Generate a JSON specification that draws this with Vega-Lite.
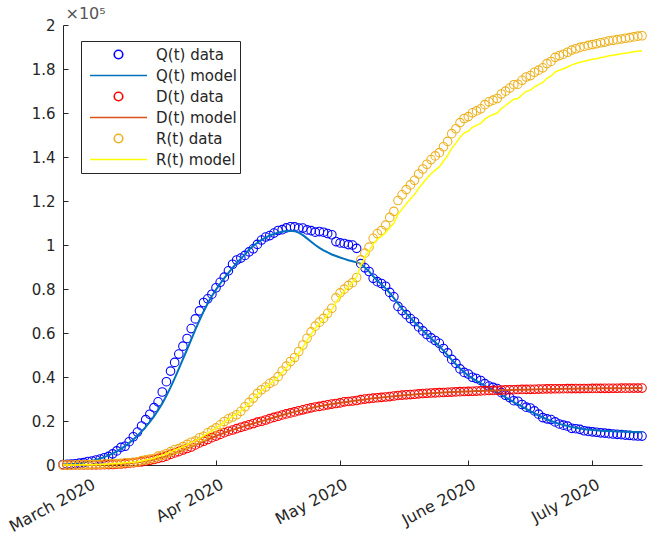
{
  "$schema": "https://vega.github.io/schema/vega-lite/v6.json",
  "width": 579,
  "height": 440,
  "autosize": {"type": "none"},
  "padding": {"left": 63, "top": 25, "right": 9, "bottom": 76},
  "background": "white",
  "data": {"values": [
    {"date":"2020-02-24","Q":221,"Qm":200,"D":7,"Dm":10,"R":1,"Rm":0},
    {"date":"2020-02-25","Q":311,"Qm":300,"D":10,"Dm":15,"R":1,"Rm":1},
    {"date":"2020-02-26","Q":385,"Qm":420,"D":12,"Dm":20,"R":3,"Rm":3},
    {"date":"2020-02-27","Q":588,"Qm":580,"D":17,"Dm":25,"R":45,"Rm":40},
    {"date":"2020-02-28","Q":821,"Qm":800,"D":21,"Dm":30,"R":46,"Rm":50},
    {"date":"2020-02-29","Q":1049,"Qm":1080,"D":29,"Dm":40,"R":50,"Rm":60},
    {"date":"2020-03-01","Q":1577,"Qm":1420,"D":34,"Dm":50,"R":83,"Rm":85},
    {"date":"2020-03-02","Q":1835,"Qm":1850,"D":52,"Dm":65,"R":149,"Rm":140},
    {"date":"2020-03-03","Q":2263,"Qm":2350,"D":79,"Dm":90,"R":160,"Rm":180},
    {"date":"2020-03-04","Q":2706,"Qm":2950,"D":107,"Dm":120,"R":276,"Rm":260},
    {"date":"2020-03-05","Q":3296,"Qm":3600,"D":148,"Dm":160,"R":414,"Rm":380},
    {"date":"2020-03-06","Q":3916,"Qm":4350,"D":197,"Dm":210,"R":523,"Rm":500},
    {"date":"2020-03-07","Q":5061,"Qm":5200,"D":233,"Dm":280,"R":589,"Rm":600},
    {"date":"2020-03-08","Q":6387,"Qm":6200,"D":366,"Dm":370,"R":622,"Rm":700},
    {"date":"2020-03-09","Q":7985,"Qm":7300,"D":463,"Dm":480,"R":724,"Rm":820},
    {"date":"2020-03-10","Q":8514,"Qm":8600,"D":631,"Dm":620,"R":1004,"Rm":980},
    {"date":"2020-03-11","Q":10590,"Qm":10000,"D":827,"Dm":800,"R":1045,"Rm":1120},
    {"date":"2020-03-12","Q":12839,"Qm":11600,"D":1016,"Dm":1010,"R":1258,"Rm":1290},
    {"date":"2020-03-13","Q":14955,"Qm":13300,"D":1266,"Dm":1250,"R":1439,"Rm":1500},
    {"date":"2020-03-14","Q":17750,"Qm":15200,"D":1441,"Dm":1500,"R":1966,"Rm":1850},
    {"date":"2020-03-15","Q":20603,"Qm":17300,"D":1809,"Dm":1800,"R":2335,"Rm":2250},
    {"date":"2020-03-16","Q":23073,"Qm":19600,"D":2158,"Dm":2150,"R":2749,"Rm":2650},
    {"date":"2020-03-17","Q":26062,"Qm":22100,"D":2503,"Dm":2530,"R":2941,"Rm":3100},
    {"date":"2020-03-18","Q":28710,"Qm":24900,"D":2978,"Dm":2960,"R":4025,"Rm":3800},
    {"date":"2020-03-19","Q":33190,"Qm":28000,"D":3405,"Dm":3440,"R":4440,"Rm":4450},
    {"date":"2020-03-20","Q":37860,"Qm":31500,"D":4032,"Dm":4000,"R":5129,"Rm":5100},
    {"date":"2020-03-21","Q":42681,"Qm":35300,"D":4825,"Dm":4650,"R":6072,"Rm":5900},
    {"date":"2020-03-22","Q":46638,"Qm":39400,"D":5476,"Dm":5350,"R":7024,"Rm":6800},
    {"date":"2020-03-23","Q":50418,"Qm":43700,"D":6077,"Dm":6080,"R":7432,"Rm":7500},
    {"date":"2020-03-24","Q":54030,"Qm":48100,"D":6820,"Dm":6800,"R":8326,"Rm":8300},
    {"date":"2020-03-25","Q":57521,"Qm":52500,"D":7503,"Dm":7520,"R":9362,"Rm":9200},
    {"date":"2020-03-26","Q":62013,"Qm":57000,"D":8165,"Dm":8250,"R":10361,"Rm":10150},
    {"date":"2020-03-27","Q":66414,"Qm":61500,"D":9134,"Dm":9020,"R":10950,"Rm":11100},
    {"date":"2020-03-28","Q":70065,"Qm":65800,"D":10023,"Dm":9880,"R":12384,"Rm":12100},
    {"date":"2020-03-29","Q":73880,"Qm":69800,"D":10779,"Dm":10750,"R":13030,"Rm":13200},
    {"date":"2020-03-30","Q":75528,"Qm":73500,"D":11591,"Dm":11600,"R":14620,"Rm":14400},
    {"date":"2020-03-31","Q":77635,"Qm":76800,"D":12428,"Dm":12400,"R":15729,"Rm":15600},
    {"date":"2020-04-01","Q":80572,"Qm":79700,"D":13155,"Dm":13200,"R":16847,"Rm":16800},
    {"date":"2020-04-02","Q":83049,"Qm":82400,"D":13915,"Dm":13950,"R":18278,"Rm":18100},
    {"date":"2020-04-03","Q":85388,"Qm":84900,"D":14681,"Dm":14650,"R":19758,"Rm":19500},
    {"date":"2020-04-04","Q":88274,"Qm":87300,"D":15362,"Dm":15320,"R":20996,"Rm":20800},
    {"date":"2020-04-05","Q":91246,"Qm":89600,"D":15887,"Dm":15950,"R":21815,"Rm":22000},
    {"date":"2020-04-06","Q":93187,"Qm":91800,"D":16523,"Dm":16550,"R":22837,"Rm":23200},
    {"date":"2020-04-07","Q":94067,"Qm":93800,"D":17127,"Dm":17120,"R":24392,"Rm":24500},
    {"date":"2020-04-08","Q":95262,"Qm":95600,"D":17669,"Dm":17700,"R":26491,"Rm":26200},
    {"date":"2020-04-09","Q":96877,"Qm":98000,"D":18279,"Dm":18270,"R":28470,"Rm":28000},
    {"date":"2020-04-10","Q":98273,"Qm":99600,"D":18849,"Dm":18850,"R":30455,"Rm":30000},
    {"date":"2020-04-11","Q":100269,"Qm":101000,"D":19468,"Dm":19400,"R":32534,"Rm":32000},
    {"date":"2020-04-12","Q":102253,"Qm":102300,"D":19899,"Dm":19950,"R":34211,"Rm":33800},
    {"date":"2020-04-13","Q":103616,"Qm":103400,"D":20465,"Dm":20480,"R":35435,"Rm":35300},
    {"date":"2020-04-14","Q":104291,"Qm":104300,"D":21067,"Dm":21040,"R":37130,"Rm":36800},
    {"date":"2020-04-15","Q":105418,"Qm":105000,"D":21645,"Dm":21600,"R":38092,"Rm":38300},
    {"date":"2020-04-16","Q":106607,"Qm":105600,"D":22170,"Dm":22180,"R":40164,"Rm":40000},
    {"date":"2020-04-17","Q":106962,"Qm":106000,"D":22745,"Dm":22700,"R":42727,"Rm":42000},
    {"date":"2020-04-18","Q":107771,"Qm":106400,"D":23227,"Dm":23220,"R":44927,"Rm":44200},
    {"date":"2020-04-19","Q":108257,"Qm":106500,"D":23660,"Dm":23690,"R":47055,"Rm":46400},
    {"date":"2020-04-20","Q":108237,"Qm":106300,"D":24114,"Dm":24150,"R":48877,"Rm":48300},
    {"date":"2020-04-21","Q":107709,"Qm":105600,"D":24648,"Dm":24600,"R":51600,"Rm":50800},
    {"date":"2020-04-22","Q":107699,"Qm":104500,"D":25085,"Dm":25060,"R":54543,"Rm":53600},
    {"date":"2020-04-23","Q":106848,"Qm":103000,"D":25549,"Dm":25500,"R":57576,"Rm":56600},
    {"date":"2020-04-24","Q":106527,"Qm":101500,"D":25969,"Dm":25930,"R":60498,"Rm":59500},
    {"date":"2020-04-25","Q":105847,"Qm":100000,"D":26384,"Dm":26330,"R":63120,"Rm":62200},
    {"date":"2020-04-26","Q":106103,"Qm":98700,"D":26644,"Dm":26700,"R":64928,"Rm":64200},
    {"date":"2020-04-27","Q":105813,"Qm":97600,"D":26977,"Dm":27050,"R":66624,"Rm":66100},
    {"date":"2020-04-28","Q":105205,"Qm":96600,"D":27359,"Dm":27380,"R":68941,"Rm":68300},
    {"date":"2020-04-29","Q":104657,"Qm":95700,"D":27682,"Dm":27680,"R":71252,"Rm":70600},
    {"date":"2020-04-30","Q":101551,"Qm":95000,"D":27967,"Dm":27980,"R":75945,"Rm":73800},
    {"date":"2020-05-01","Q":100943,"Qm":94300,"D":28236,"Dm":28270,"R":78249,"Rm":76800},
    {"date":"2020-05-02","Q":100704,"Qm":93700,"D":28710,"Dm":28540,"R":79914,"Rm":79000},
    {"date":"2020-05-03","Q":100179,"Qm":93100,"D":28884,"Dm":28800,"R":81654,"Rm":81000},
    {"date":"2020-05-04","Q":99980,"Qm":92600,"D":29079,"Dm":29050,"R":82879,"Rm":83000},
    {"date":"2020-05-05","Q":98467,"Qm":92100,"D":29315,"Dm":29300,"R":85231,"Rm":85500},
    {"date":"2020-05-06","Q":91528,"Qm":91400,"D":29684,"Dm":29560,"R":93245,"Rm":90500},
    {"date":"2020-05-07","Q":89624,"Qm":89800,"D":29958,"Dm":29820,"R":96276,"Rm":94500},
    {"date":"2020-05-08","Q":87961,"Qm":88000,"D":30201,"Dm":30060,"R":99023,"Rm":97300},
    {"date":"2020-05-09","Q":84842,"Qm":85800,"D":30395,"Dm":30290,"R":103031,"Rm":100400},
    {"date":"2020-05-10","Q":83324,"Qm":83800,"D":30560,"Dm":30500,"R":105186,"Rm":102600},
    {"date":"2020-05-11","Q":82488,"Qm":82100,"D":30739,"Dm":30700,"R":106587,"Rm":104000},
    {"date":"2020-05-12","Q":81266,"Qm":80300,"D":30911,"Dm":30890,"R":109039,"Rm":105600},
    {"date":"2020-05-13","Q":78457,"Qm":78200,"D":31106,"Dm":31080,"R":112541,"Rm":107800},
    {"date":"2020-05-14","Q":76440,"Qm":75900,"D":31368,"Dm":31270,"R":115288,"Rm":110000},
    {"date":"2020-05-15","Q":72070,"Qm":73400,"D":31610,"Dm":31450,"R":120205,"Rm":113900},
    {"date":"2020-05-16","Q":70187,"Qm":71000,"D":31763,"Dm":31620,"R":122810,"Rm":116400},
    {"date":"2020-05-17","Q":68351,"Qm":68800,"D":31908,"Dm":31790,"R":125176,"Rm":118700},
    {"date":"2020-05-18","Q":66553,"Qm":66800,"D":32007,"Dm":31950,"R":127326,"Rm":120900},
    {"date":"2020-05-19","Q":65129,"Qm":64900,"D":32169,"Dm":32100,"R":129401,"Rm":123000},
    {"date":"2020-05-20","Q":62752,"Qm":63000,"D":32330,"Dm":32250,"R":132282,"Rm":125800},
    {"date":"2020-05-21","Q":60960,"Qm":61100,"D":32486,"Dm":32390,"R":134560,"Rm":128100},
    {"date":"2020-05-22","Q":59322,"Qm":59300,"D":32616,"Dm":32520,"R":136720,"Rm":130300},
    {"date":"2020-05-23","Q":57752,"Qm":57500,"D":32735,"Dm":32640,"R":138840,"Rm":132400},
    {"date":"2020-05-24","Q":56594,"Qm":55800,"D":32785,"Dm":32760,"R":140479,"Rm":134000},
    {"date":"2020-05-25","Q":55300,"Qm":54000,"D":32877,"Dm":32870,"R":141981,"Rm":135500},
    {"date":"2020-05-26","Q":52942,"Qm":52000,"D":32955,"Dm":32970,"R":144658,"Rm":138200},
    {"date":"2020-05-27","Q":50966,"Qm":49900,"D":33072,"Dm":33060,"R":147101,"Rm":140600},
    {"date":"2020-05-28","Q":47986,"Qm":47800,"D":33142,"Dm":33150,"R":150604,"Rm":144000},
    {"date":"2020-05-29","Q":46175,"Qm":45800,"D":33229,"Dm":33230,"R":152844,"Rm":146300},
    {"date":"2020-05-30","Q":43691,"Qm":43900,"D":33340,"Dm":33310,"R":155633,"Rm":149000},
    {"date":"2020-05-31","Q":42075,"Qm":42200,"D":33415,"Dm":33380,"R":157507,"Rm":150900},
    {"date":"2020-06-01","Q":41367,"Qm":40700,"D":33475,"Dm":33450,"R":158355,"Rm":151800},
    {"date":"2020-06-02","Q":39893,"Qm":39400,"D":33530,"Dm":33520,"R":160092,"Rm":153500},
    {"date":"2020-06-03","Q":39297,"Qm":38200,"D":33601,"Dm":33590,"R":160938,"Rm":154400},
    {"date":"2020-06-04","Q":38429,"Qm":37100,"D":33689,"Dm":33650,"R":161895,"Rm":155300},
    {"date":"2020-06-05","Q":36976,"Qm":36000,"D":33774,"Dm":33710,"R":163781,"Rm":157200},
    {"date":"2020-06-06","Q":35877,"Qm":35000,"D":33846,"Dm":33770,"R":165078,"Rm":158500},
    {"date":"2020-06-07","Q":35262,"Qm":34000,"D":33899,"Dm":33830,"R":165837,"Rm":159300},
    {"date":"2020-06-08","Q":34730,"Qm":33000,"D":33964,"Dm":33890,"R":166584,"Rm":160000},
    {"date":"2020-06-09","Q":32872,"Qm":31900,"D":34043,"Dm":33950,"R":168646,"Rm":162000},
    {"date":"2020-06-10","Q":31710,"Qm":30800,"D":34114,"Dm":34000,"R":169939,"Rm":163400},
    {"date":"2020-06-11","Q":30637,"Qm":29700,"D":34167,"Dm":34060,"R":171338,"Rm":164800},
    {"date":"2020-06-12","Q":29222,"Qm":28600,"D":34223,"Dm":34110,"R":172860,"Rm":166300},
    {"date":"2020-06-13","Q":28997,"Qm":27500,"D":34301,"Dm":34160,"R":173085,"Rm":166600},
    {"date":"2020-06-14","Q":27485,"Qm":26500,"D":34345,"Dm":34210,"R":174865,"Rm":168300},
    {"date":"2020-06-15","Q":26274,"Qm":25500,"D":34371,"Dm":34260,"R":176370,"Rm":169800},
    {"date":"2020-06-16","Q":25909,"Qm":24500,"D":34405,"Dm":34300,"R":177010,"Rm":170400},
    {"date":"2020-06-17","Q":24569,"Qm":23500,"D":34448,"Dm":34350,"R":178526,"Rm":171900},
    {"date":"2020-06-18","Q":23101,"Qm":22500,"D":34514,"Dm":34390,"R":179455,"Rm":172900},
    {"date":"2020-06-19","Q":21543,"Qm":21600,"D":34561,"Dm":34430,"R":180544,"Rm":173900},
    {"date":"2020-06-20","Q":20972,"Qm":20800,"D":34610,"Dm":34470,"R":182453,"Rm":175800},
    {"date":"2020-06-21","Q":20637,"Qm":20000,"D":34634,"Dm":34510,"R":183426,"Rm":176800},
    {"date":"2020-06-22","Q":19573,"Qm":19300,"D":34657,"Dm":34540,"R":185292,"Rm":178600},
    {"date":"2020-06-23","Q":18655,"Qm":18700,"D":34675,"Dm":34580,"R":186111,"Rm":179400},
    {"date":"2020-06-24","Q":18100,"Qm":18200,"D":34678,"Dm":34610,"R":186725,"Rm":180100},
    {"date":"2020-06-25","Q":17638,"Qm":17700,"D":34708,"Dm":34640,"R":187615,"Rm":180900},
    {"date":"2020-06-26","Q":16681,"Qm":17300,"D":34716,"Dm":34670,"R":188584,"Rm":181900},
    {"date":"2020-06-27","Q":16496,"Qm":16900,"D":34738,"Dm":34700,"R":189196,"Rm":182500},
    {"date":"2020-06-28","Q":16200,"Qm":16600,"D":34744,"Dm":34720,"R":189800,"Rm":183100},
    {"date":"2020-06-29","Q":15563,"Qm":16300,"D":34767,"Dm":34750,"R":190248,"Rm":183500},
    {"date":"2020-06-30","Q":15255,"Qm":16100,"D":34788,"Dm":34770,"R":190717,"Rm":184000},
    {"date":"2020-07-01","Q":15060,"Qm":15900,"D":34797,"Dm":34790,"R":191083,"Rm":184400},
    {"date":"2020-07-02","Q":14884,"Qm":15750,"D":34818,"Dm":34810,"R":191467,"Rm":184700},
    {"date":"2020-07-03","Q":14621,"Qm":15600,"D":34833,"Dm":34830,"R":191944,"Rm":185200},
    {"date":"2020-07-04","Q":14500,"Qm":15500,"D":34854,"Dm":34850,"R":192241,"Rm":185500},
    {"date":"2020-07-05","Q":14242,"Qm":15400,"D":34861,"Dm":34870,"R":192815,"Rm":186000},
    {"date":"2020-07-06","Q":14100,"Qm":15300,"D":34869,"Dm":34880,"R":193037,"Rm":186300},
    {"date":"2020-07-07","Q":13950,"Qm":15250,"D":34899,"Dm":34900,"R":193330,"Rm":186600},
    {"date":"2020-07-08","Q":13800,"Qm":15200,"D":34914,"Dm":34910,"R":193640,"Rm":186900},
    {"date":"2020-07-09","Q":13595,"Qm":15150,"D":34926,"Dm":34920,"R":193978,"Rm":187200},
    {"date":"2020-07-10","Q":13459,"Qm":15100,"D":34938,"Dm":34940,"R":194245,"Rm":187500},
    {"date":"2020-07-11","Q":13303,"Qm":15050,"D":34945,"Dm":34950,"R":194579,"Rm":187800},
    {"date":"2020-07-12","Q":13179,"Qm":15000,"D":34954,"Dm":34960,"R":194928,"Rm":188100},
    {"date":"2020-07-13","Q":13150,"Qm":14950,"D":34967,"Dm":34970,"R":195106,"Rm":188300}
  ]},
  "encoding": {
    "x": {
      "field": "date", "type": "temporal",
      "scale": {"type": "utc", "domain": [{"year": 2020, "month": 2, "date": 24, "utc": true}, {"year": 2020, "month": 7, "date": 13, "utc": true}], "nice": false},
      "axis": {
        "title": null,
        "values": [
          {"year": 2020, "month": 3, "date": 1, "utc": true},
          {"year": 2020, "month": 4, "date": 1, "utc": true},
          {"year": 2020, "month": 5, "date": 1, "utc": true},
          {"year": 2020, "month": 6, "date": 1, "utc": true},
          {"year": 2020, "month": 7, "date": 1, "utc": true}
        ],
        "labelExpr": "['Jan 2020','Feb 2020','March 2020','Apr 2020','May 2020','June 2020','July 2020'][utcmonth(datum.value)]",
        "labelAngle": -28,
        "labelAlign": "right",
        "labelBaseline": "top",
        "labelOffset": 2,
        "labelPadding": 16,
        "tickSize": -5,
        "labelFontSize": 16,
        "labelOverlap": false,
        "labelFlush": false
      }
    }
  },
  "layer": [
    {
      "mark": {"type": "point", "filled": false, "size": 3249, "strokeWidth": 1.1, "opacity": 1},
      "encoding": {
        "y": {
          "field": "Q", "type": "quantitative", "title": "×10⁵",
          "scale": {"domain": [0, 200000], "nice": false},
          "axis": {
            "values": [0, 20000, 40000, 60000, 80000, 100000, 120000, 140000, 160000, 180000, 200000],
            "labelExpr": "format(datum.value / 100000, '~g')",
            "tickSize": -5,
            "labelPadding": 13,
            "labelFontSize": 15,
            "titleAngle": 0,
            "titleX": 2,
            "titleY": -7,
            "titleAlign": "left",
            "titleBaseline": "alphabetic",
            "titleFontSize": 16,
            "titleFontWeight": "normal",
            "titleColor": "#555555"
          }
        },
        "color": {
          "datum": "Q(t) data",
          "scale": {
            "domain": ["Q(t) data", "Q(t) model", "D(t) data", "D(t) model", "R(t) data", "R(t) model"],
            "range": ["#0000ff", "#0072bd", "#ff0000", "#d95319", "#edb120", "#ffff00"]
          },
          "legend": {
            "title": null, "orient": "none", "legendX": 18, "legendY": 16, "padding": 3, "rowPadding": 0, "clipHeight": 21,
            "symbolOffset": 5, "labelOffset": 8, "labelFontSize": 15, "labelColor": "#262626", "strokeColor": "#262626", "fillColor": "white",
            "symbolType": "stroke", "symbolSize": 3249, "symbolStrokeWidth": 1.6
          }
        },
        "shape": {
          "datum": "Q(t) data",
          "scale": {
            "domain": ["Q(t) data", "Q(t) model", "D(t) data", "D(t) model", "R(t) data", "R(t) model"],
            "range": [
              "M0.15,0A0.15,0.15,0,1,1,-0.15,0A0.15,0.15,0,1,1,0.15,0Z", "stroke",
              "M0.15,0A0.15,0.15,0,1,1,-0.15,0A0.15,0.15,0,1,1,0.15,0Z", "stroke",
              "M0.15,0A0.15,0.15,0,1,1,-0.15,0A0.15,0.15,0,1,1,0.15,0Z", "stroke"
            ]
          },
          "legend": {
            "title": null, "orient": "none", "legendX": 18, "legendY": 16, "padding": 3, "rowPadding": 0, "clipHeight": 21,
            "symbolOffset": 5, "labelOffset": 8, "labelFontSize": 15, "labelColor": "#262626", "strokeColor": "#262626", "fillColor": "white",
            "symbolType": "stroke", "symbolSize": 3249, "symbolStrokeWidth": 1.6
          }
        }
      }
    },
    {
      "mark": {"type": "line", "strokeWidth": 2},
      "encoding": {
        "y": {"field": "Qm", "type": "quantitative", "title": "×10⁵"},
        "color": {"datum": "Q(t) model", "legend": null}
      }
    },
    {
      "mark": {"type": "point", "filled": false, "size": 3249, "strokeWidth": 1.1, "opacity": 1},
      "encoding": {
        "y": {"field": "D", "type": "quantitative", "title": "×10⁵"},
        "color": {"datum": "D(t) data", "legend": null},
        "shape": {"datum": "D(t) data", "legend": null}
      }
    },
    {
      "mark": {"type": "line", "strokeWidth": 2},
      "encoding": {
        "y": {"field": "Dm", "type": "quantitative", "title": "×10⁵"},
        "color": {"datum": "D(t) model", "legend": null}
      }
    },
    {
      "mark": {"type": "point", "filled": false, "size": 3249, "strokeWidth": 1.1, "opacity": 1},
      "encoding": {
        "y": {"field": "R", "type": "quantitative", "title": "×10⁵"},
        "color": {"datum": "R(t) data", "legend": null},
        "shape": {"datum": "R(t) data", "legend": null}
      }
    },
    {
      "mark": {"type": "line", "strokeWidth": 1.5},
      "encoding": {
        "y": {"field": "Rm", "type": "quantitative", "title": "×10⁵"},
        "color": {"datum": "R(t) model", "legend": null}
      }
    }
  ],
  "config": {
    "font": "DejaVu Sans",
    "view": {"stroke": null},
    "axis": {
      "grid": false,
      "domainColor": "#262626",
      "domainWidth": 1,
      "tickColor": "#262626",
      "tickWidth": 1,
      "labelColor": "#262626",
      "titleColor": "#262626",
      "labelFont": "DejaVu Sans",
      "titleFont": "DejaVu Sans"
    },
    "legend": {"labelFont": "DejaVu Sans"}
  }
}
